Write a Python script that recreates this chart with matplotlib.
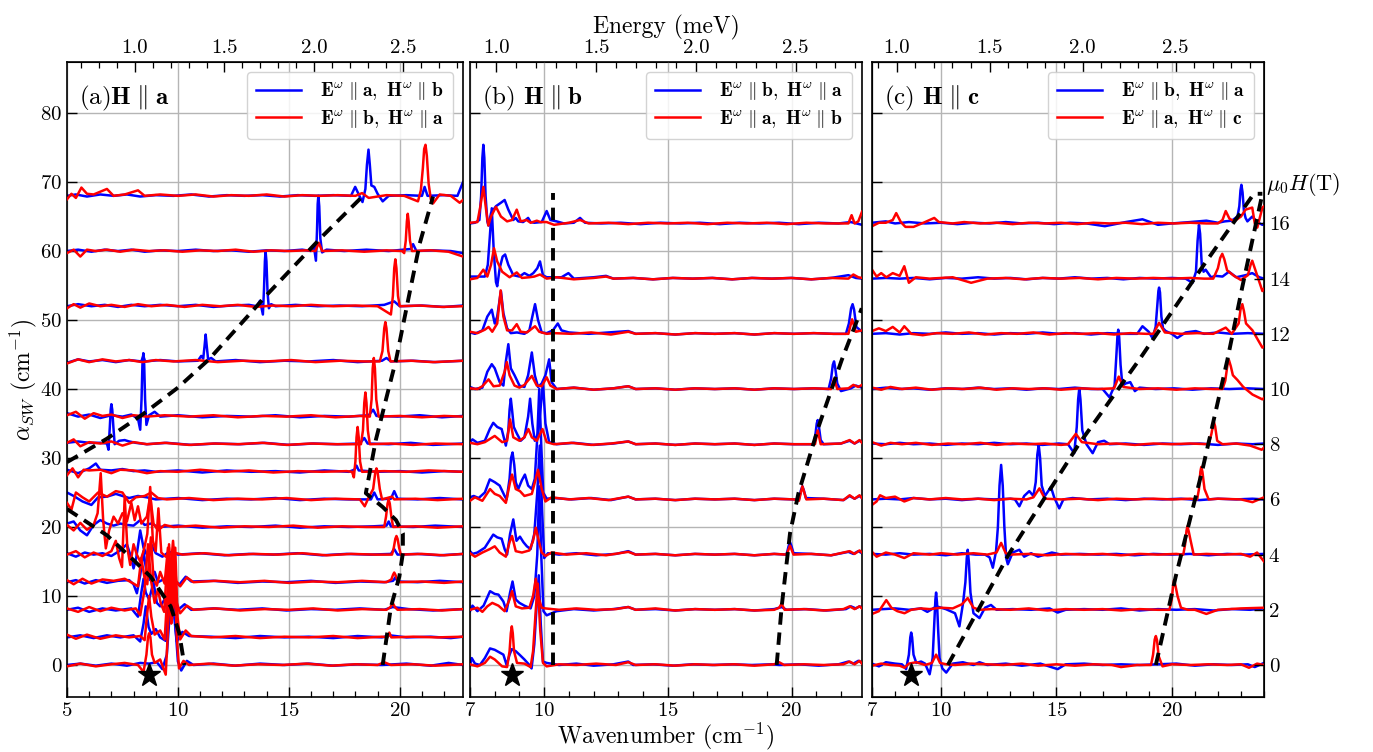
import matplotlib
matplotlib.use('Agg')
import matplotlib.pyplot as plt
from matplotlib.ticker import MultipleLocator, FormatStrFormatter
import matplotlib.transforms as mtransforms

plt.rcParams.update({
    'font.family': 'serif', 'font.serif': ['cmr10'], 'mathtext.fontset': 'cm',
    'axes.formatter.use_mathtext': True, 'axes.unicode_minus': False,
})

CM_PER_MEV = 8.0655
OFFSET_PER_TESLA = 4.0

A_FIELDS = [0, 1, 2, 3, 4, 5, 6, 7, 8, 9, 11, 13, 15, 17]
B_FIELDS = [0, 2, 4, 6, 8, 10, 12, 14, 16]
C_FIELDS = [0, 2, 4, 6, 8, 10, 12, 14, 16]
RIGHT_TICK_FIELDS = [0, 2, 4, 6, 8, 10, 12, 14, 16]

# ---------------- panel (a) spectra: (wavenumber, alpha - offset) ----------------
A_B00 = [(5.0,0.0),(5.6,0.2),(6.3,-0.1),(7.0,0.2),(7.7,-0.1),(8.3,0.3),(8.7,0.2),(9.05,0.4),(9.3,-0.6),(9.5,1.5),(9.6,6.0),(9.68,10.5),(9.75,12.0),(9.82,10.0),(9.9,5.0),(10.0,0.5),(10.15,-0.8),(10.4,0.6),(10.7,0.0),(11.6,0.2),(12.6,-0.1),(13.7,0.2),(14.8,0.0),(15.9,0.2),(17.0,-0.1),(18.1,0.1),(19.2,0.0),(20.3,0.2),(21.4,-0.1),(22.2,0.3),(22.85,0.0)]
A_R00 = [(5.0,-0.2),(5.6,0.2),(6.3,-0.2),(7.0,0.1),(7.6,0.3),(8.2,0.0),(8.45,-1.0),(8.58,1.5),(8.65,4.0),(8.7,4.6),(8.76,4.0),(8.83,1.5),(8.95,0.3),(9.2,0.8),(9.45,-1.4),(9.55,5.0),(9.62,12.5),(9.7,6.0),(9.78,8.0),(9.86,13.0),(9.95,4.0),(10.05,-0.5),(10.25,0.6),(10.5,0.0),(11.4,0.2),(12.5,-0.1),(13.6,0.1),(14.7,0.0),(15.8,0.2),(16.9,-0.1),(18.0,0.1),(19.0,0.0),(19.3,0.4),(19.6,0.0),(20.6,0.1),(21.6,-0.1),(22.85,0.1)]
A_B01 = [(5.0,0.0),(5.6,0.3),(6.2,-0.1),(6.8,0.3),(7.4,0.0),(8.0,0.3),(8.3,-0.6),(8.45,2.0),(8.55,4.5),(8.68,1.5),(8.8,0.5),(9.0,1.2),(9.2,0.0),(9.45,-0.5),(9.58,5.0),(9.68,9.0),(9.8,4.0),(9.95,-0.6),(10.2,0.8),(10.5,0.2),(11.5,0.1),(12.6,-0.1),(13.7,0.2),(14.8,0.0),(15.9,0.1),(17.0,-0.1),(18.1,0.2),(19.2,0.0),(19.55,0.3),(20.3,0.0),(21.4,0.1),(22.3,-0.1),(22.85,0.1)]
A_R01 = [(5.0,0.4),(5.4,-0.2),(5.9,0.4),(6.5,-0.2),(7.2,0.3),(7.8,0.0),(8.3,0.2),(8.5,-0.4),(8.6,3.0),(8.7,6.0),(8.8,3.0),(8.95,0.4),(9.2,1.0),(9.4,-0.3),(9.52,6.0),(9.6,13.5),(9.7,5.0),(9.78,7.0),(9.88,13.0),(9.98,3.0),(10.1,-0.3),(10.35,1.0),(10.6,0.2),(11.5,0.0),(12.6,0.2),(13.7,-0.1),(14.8,0.1),(15.9,0.0),(17.0,0.2),(18.1,-0.1),(19.2,0.1),(19.45,0.0),(19.53,0.7),(19.62,0.0),(20.6,0.1),(21.7,0.0),(22.85,0.1)]
A_B02 = [(5.0,0.0),(5.5,0.3),(6.0,-0.3),(6.6,0.2),(7.2,-0.1),(7.9,0.2),(8.2,-1.0),(8.35,2.5),(8.45,4.5),(8.55,2.5),(8.7,1.5),(8.9,4.0),(9.05,1.0),(9.2,0.5),(9.4,1.5),(9.55,-0.5),(9.7,0.8),(9.9,-0.3),(10.3,0.8),(10.6,0.0),(11.6,0.2),(12.7,0.0),(13.8,0.2),(14.9,-0.1),(16.0,0.1),(17.1,0.0),(18.2,0.2),(19.3,0.0),(19.68,0.4),(20.4,0.1),(21.5,-0.1),(22.85,0.1)]
A_R02 = [(5.0,0.2),(5.5,-0.3),(6.0,0.4),(6.5,-0.2),(7.0,0.3),(7.6,-0.1),(8.1,0.2),(8.3,-0.8),(8.5,3.0),(8.65,9.5),(8.8,4.0),(8.95,1.0),(9.1,3.0),(9.22,1.0),(9.38,-0.3),(9.5,6.0),(9.6,9.0),(9.7,2.0),(9.82,9.0),(9.95,1.0),(10.1,-0.5),(10.4,0.6),(10.7,0.0),(11.7,0.2),(12.8,-0.1),(13.9,0.1),(15.0,0.0),(16.1,0.2),(17.2,-0.1),(18.3,0.1),(19.4,0.0),(19.58,0.4),(19.68,1.0),(19.78,0.4),(19.9,0.0),(20.9,0.1),(21.9,-0.1),(22.85,0.1)]
A_B03 = [(5.0,0.0),(5.4,0.3),(5.8,-0.2),(6.3,0.3),(6.8,-0.1),(7.3,0.2),(7.8,0.3),(8.0,-0.3),(8.15,-1.6),(8.3,1.0),(8.45,4.5),(8.58,1.5),(8.75,0.3),(8.95,1.5),(9.1,0.0),(9.4,0.5),(9.7,2.5),(9.85,0.3),(10.05,-0.4),(10.35,0.8),(10.6,0.1),(11.6,0.2),(12.7,-0.1),(13.8,0.1),(14.9,0.0),(16.0,0.2),(17.1,-0.1),(18.2,0.1),(19.3,0.0),(19.7,0.2),(19.8,0.7),(19.9,0.1),(20.8,0.0),(21.8,0.2),(22.85,0.0)]
A_R03 = [(5.0,0.3),(5.3,-0.3),(5.7,0.5),(6.1,-0.2),(6.6,0.4),(7.1,0.2),(7.6,0.5),(8.0,-0.2),(8.2,-0.6),(8.35,3.5),(8.5,0.5),(8.62,-0.3),(8.78,6.5),(8.9,0.5),(9.05,-0.5),(9.2,1.5),(9.4,-0.2),(9.55,5.0),(9.65,1.0),(9.78,6.0),(9.92,0.2),(10.1,-0.6),(10.4,0.7),(10.7,0.0),(11.7,0.2),(12.8,0.0),(13.9,0.2),(15.0,-0.1),(16.1,0.1),(17.2,0.0),(18.3,0.2),(19.4,0.0),(19.62,0.4),(19.7,1.1),(19.75,1.4),(19.8,1.1),(19.88,0.4),(20.0,0.0),(21.0,0.1),(22.0,-0.1),(22.85,0.1)]
A_B04 = [(5.0,0.2),(5.4,-0.3),(5.8,0.3),(6.2,0.0),(6.6,0.2),(7.0,-0.2),(7.4,0.6),(7.7,1.5),(7.85,0.0),(8.0,-2.0),(8.12,-0.5),(8.3,3.5),(8.45,1.0),(8.6,0.0),(8.8,1.5),(9.0,0.2),(9.3,-0.3),(9.6,0.4),(10.0,0.0),(11.0,0.2),(12.1,-0.1),(13.2,0.1),(14.3,0.0),(15.4,0.2),(16.5,-0.1),(17.6,0.1),(18.7,0.0),(19.6,0.1),(19.75,0.8),(19.9,0.0),(20.8,0.1),(21.8,-0.1),(22.85,0.1)]
A_R04 = [(5.0,0.0),(5.4,0.5),(5.8,-0.4),(6.2,0.3),(6.6,-0.2),(7.0,0.5),(7.2,2.0),(7.35,-0.5),(7.48,-1.8),(7.6,8.4),(7.72,1.0),(7.85,-1.5),(8.0,1.5),(8.15,0.0),(8.3,-1.0),(8.45,0.5),(8.62,3.0),(8.75,9.8),(8.87,2.0),(9.0,0.5),(9.12,6.7),(9.25,0.3),(9.45,-0.3),(9.8,0.3),(10.2,0.0),(11.2,0.2),(12.3,-0.1),(13.4,0.1),(14.5,0.0),(15.6,0.2),(16.7,-0.1),(17.8,0.1),(18.9,0.0),(19.65,0.0),(19.73,1.0),(19.8,2.3),(19.85,2.7),(19.9,2.3),(19.97,1.0),(20.05,0.0),(21.0,0.1),(22.0,-0.1),(22.85,0.1)]
A_B05 = [(5.0,0.5),(5.3,0.8),(5.6,-0.5),(5.9,-1.2),(6.2,0.3),(6.5,1.0),(6.8,0.5),(7.1,0.2),(7.4,0.5),(7.7,0.3),(8.0,0.2),(8.3,1.0),(8.5,0.3),(8.8,0.5),(9.1,0.0),(10.0,0.2),(11.1,-0.1),(12.2,0.1),(13.3,0.0),(14.4,0.2),(15.5,-0.1),(16.6,0.1),(17.7,0.0),(18.8,0.1),(19.4,0.2),(19.5,0.8),(19.6,0.1),(20.6,0.0),(21.6,0.2),(22.85,0.0)]
A_R05 = [(5.0,0.3),(5.3,-0.5),(5.6,0.6),(5.9,-0.4),(6.2,0.3),(6.38,2.0),(6.52,7.8),(6.63,1.0),(6.75,-3.1),(6.9,-0.5),(7.1,1.5),(7.3,0.5),(7.5,2.0),(7.7,0.8),(7.9,3.5),(8.05,1.0),(8.2,3.0),(8.35,0.5),(8.6,1.5),(8.75,4.5),(8.9,0.5),(9.1,-0.5),(9.4,0.3),(9.8,0.0),(10.8,0.2),(11.9,-0.1),(13.0,0.1),(14.1,0.0),(15.2,0.2),(16.3,-0.1),(17.4,0.1),(18.5,0.0),(19.3,0.0),(19.38,1.5),(19.45,3.4),(19.5,4.0),(19.55,3.4),(19.62,1.5),(19.7,0.0),(20.7,0.1),(21.7,-0.1),(22.85,0.1)]
A_B06 = [(5.0,1.0),(5.3,0.5),(5.7,-0.3),(6.1,-0.8),(6.4,0.3),(6.8,0.4),(7.2,0.8),(7.5,0.5),(7.8,0.2),(8.2,0.5),(8.6,0.3),(9.0,0.0),(10.0,0.2),(11.1,-0.1),(12.2,0.1),(13.3,0.0),(14.4,0.2),(15.5,-0.1),(16.6,0.1),(17.7,0.0),(18.7,0.0),(18.85,1.0),(19.0,0.0),(19.6,0.1),(19.75,1.2),(19.9,0.1),(20.8,0.0),(21.8,0.2),(22.85,0.0)]
A_R06 = [(5.0,-0.5),(5.2,-1.5),(5.4,1.0),(5.7,0.3),(6.0,-0.3),(6.4,1.0),(6.8,0.4),(7.2,1.2),(7.5,1.0),(7.8,-0.5),(8.1,0.3),(8.5,0.5),(8.8,1.0),(9.1,0.2),(9.5,0.0),(10.5,0.2),(11.6,-0.1),(12.7,0.1),(13.8,0.0),(14.9,0.2),(16.0,-0.1),(17.1,0.1),(18.2,0.0),(18.42,-1.0),(18.6,0.3),(18.8,1.5),(18.9,4.0),(18.95,4.5),(19.0,4.0),(19.1,1.5),(19.2,0.0),(19.65,0.4),(19.75,0.0),(20.7,0.1),(21.7,-0.1),(22.85,0.1)]
A_B07 = [(5.0,0.3),(5.5,-0.2),(6.0,0.5),(6.3,1.2),(6.5,0.3),(7.0,0.2),(7.5,0.4),(8.0,0.1),(8.5,0.2),(9.0,0.0),(10.0,0.2),(11.1,-0.1),(12.2,0.2),(13.3,0.0),(14.4,0.1),(15.5,-0.1),(16.6,0.2),(17.7,0.0),(17.95,0.3),(18.05,0.9),(18.15,0.2),(19.0,0.0),(20.0,0.1),(21.0,-0.1),(22.0,0.1),(22.85,0.0)]
A_R07 = [(5.0,-0.5),(5.25,0.5),(5.5,-0.8),(5.75,0.3),(6.0,0.2),(6.5,0.3),(7.0,-0.2),(7.4,0.3),(8.0,0.2),(8.6,-0.2),(9.2,0.1),(10.0,0.0),(11.0,0.3),(12.1,0.0),(13.2,0.2),(14.3,-0.1),(15.4,0.1),(16.5,0.0),(17.6,0.1),(17.85,0.0),(17.93,-0.8),(18.0,1.5),(18.05,5.0),(18.1,6.5),(18.15,5.0),(18.21,1.5),(18.3,0.0),(19.3,0.1),(20.3,0.0),(21.3,0.2),(22.85,0.0)]
A_B08 = [(5.0,0.2),(5.5,0.4),(6.0,0.2),(6.5,0.2),(6.8,0.1),(6.87,-0.8),(6.93,2.5),(6.97,5.0),(7.0,5.8),(7.04,5.0),(7.09,2.5),(7.15,0.0),(7.35,0.5),(7.6,0.6),(7.8,0.4),(8.1,0.2),(8.6,0.0),(9.5,0.2),(10.6,-0.1),(11.7,0.1),(12.8,0.0),(13.9,0.2),(15.0,-0.1),(16.1,0.1),(17.2,0.0),(18.2,0.1),(18.4,0.9),(18.55,0.1),(19.5,0.0),(20.5,0.2),(21.5,-0.1),(22.85,0.1)]
A_R08 = [(5.0,0.2),(5.3,0.7),(5.6,-0.3),(6.0,0.3),(6.5,0.1),(7.0,0.4),(7.5,-0.2),(8.0,0.3),(8.6,0.0),(9.4,0.2),(10.5,-0.1),(11.6,0.1),(12.7,0.0),(13.8,0.2),(14.9,-0.1),(16.0,0.1),(17.1,0.0),(18.25,0.0),(18.34,2.0),(18.4,6.0),(18.45,7.5),(18.5,6.0),(18.56,2.0),(18.65,0.0),(19.6,0.1),(20.6,-0.1),(21.6,0.1),(22.85,0.0)]
A_B09 = [(5.0,0.5),(5.5,0.0),(6.0,0.3),(6.5,-0.2),(7.0,0.2),(7.5,0.0),(7.9,0.3),(8.2,-0.3),(8.3,-1.9),(8.36,2.5),(8.4,7.5),(8.44,9.2),(8.48,7.5),(8.52,2.5),(8.58,-1.2),(8.7,0.2),(8.95,0.7),(9.2,0.0),(10.0,0.2),(11.1,-0.1),(12.2,0.1),(13.3,0.0),(14.4,0.2),(15.5,-0.1),(16.6,0.1),(17.7,0.0),(18.6,0.2),(18.8,1.0),(18.95,0.1),(19.9,0.0),(20.9,0.2),(21.9,-0.1),(22.85,0.1)]
A_R09 = [(5.0,0.2),(5.4,0.7),(5.8,-0.3),(6.2,0.5),(6.6,0.1),(7.0,0.3),(7.5,-0.2),(8.0,0.2),(8.6,0.0),(9.4,0.2),(10.5,0.0),(11.6,0.2),(12.7,-0.1),(13.8,0.1),(14.9,0.0),(16.0,0.2),(17.1,-0.1),(18.2,0.1),(18.65,0.0),(18.73,2.5),(18.78,7.0),(18.83,8.5),(18.88,7.0),(18.94,2.5),(19.05,0.0),(20.0,0.1),(21.0,-0.1),(22.0,0.1),(22.85,0.0)]
A_B11 = [(5.0,-0.2),(5.5,0.3),(6.0,0.0),(6.6,0.2),(7.2,-0.1),(7.8,0.2),(8.35,0.0),(8.44,0.8),(8.52,0.0),(9.2,0.2),(10.0,0.0),(10.9,0.1),(11.05,0.8),(11.14,0.4),(11.2,2.2),(11.25,3.9),(11.3,2.2),(11.36,0.3),(11.5,0.5),(11.7,0.0),(12.6,0.2),(13.7,-0.1),(14.8,0.1),(15.9,0.0),(17.0,0.2),(18.1,-0.1),(19.2,0.1),(19.4,0.5),(19.6,0.0),(20.6,0.1),(21.6,-0.1),(22.85,0.1)]
A_R11 = [(5.0,-0.3),(5.5,0.3),(6.0,-0.1),(6.6,0.3),(7.2,0.0),(7.8,0.2),(8.4,-0.1),(9.0,0.2),(9.8,0.0),(10.8,0.2),(11.8,-0.1),(12.9,0.1),(14.0,0.0),(15.1,0.2),(16.2,-0.1),(17.3,0.1),(18.4,0.0),(19.1,0.0),(19.22,1.5),(19.3,4.8),(19.35,5.7),(19.4,4.8),(19.48,1.5),(19.58,0.0),(20.5,0.1),(21.5,-0.1),(22.85,0.1)]
A_B13 = [(5.0,0.0),(5.5,0.3),(6.1,0.0),(6.7,0.2),(7.3,-0.1),(7.9,0.2),(8.5,0.0),(9.2,0.2),(10.0,0.0),(10.8,0.2),(11.6,-0.1),(12.4,0.1),(13.2,0.2),(13.55,0.0),(13.7,0.8),(13.83,-1.2),(13.88,2.5),(13.92,6.5),(13.95,8.0),(13.99,6.5),(14.04,2.0),(14.1,-0.3),(14.2,0.3),(14.4,0.0),(15.3,0.2),(16.3,0.0),(17.3,0.1),(18.3,0.0),(19.3,0.2),(19.75,0.7),(20.0,0.0),(21.0,0.1),(22.0,-0.1),(22.85,0.1)]
A_R13 = [(5.0,-0.3),(5.3,0.3),(5.6,-0.2),(6.0,0.4),(6.5,0.0),(7.0,0.2),(7.6,-0.1),(8.2,0.3),(8.8,0.0),(9.5,0.2),(10.3,-0.1),(11.1,0.2),(11.9,0.0),(12.7,0.2),(13.5,-0.1),(14.3,0.1),(15.1,0.0),(16.0,0.2),(17.0,0.0),(18.0,0.1),(19.0,0.0),(19.6,-1.2),(19.69,1.5),(19.75,5.5),(19.8,6.8),(19.85,5.5),(19.92,1.5),(20.0,0.0),(20.9,0.1),(21.9,-0.1),(22.85,0.0)]
A_B15 = [(5.0,0.0),(5.5,0.2),(6.1,-0.1),(6.7,0.2),(7.3,0.0),(7.9,0.2),(8.5,-0.1),(9.2,0.1),(10.0,0.0),(10.8,0.2),(11.6,0.0),(12.4,0.1),(13.2,-0.1),(14.0,0.1),(14.8,0.0),(15.6,0.2),(16.0,0.0),(16.13,0.7),(16.22,-1.4),(16.27,3.0),(16.3,6.8),(16.33,8.0),(16.37,6.5),(16.42,1.8),(16.5,-0.2),(16.7,0.2),(17.5,0.0),(18.5,0.2),(19.5,0.0),(20.5,0.3),(20.6,1.0),(20.75,0.0),(21.5,0.1),(22.3,0.0),(22.85,-0.3)]
A_R15 = [(5.0,-0.3),(5.3,0.2),(5.6,-0.8),(5.9,0.2),(6.3,0.0),(6.8,0.2),(7.4,-0.1),(8.0,0.2),(8.7,0.0),(9.4,0.1),(10.2,-0.1),(11.0,0.1),(11.8,0.0),(12.6,0.2),(13.4,-0.1),(14.2,0.1),(15.0,0.0),(15.8,0.1),(16.2,0.0),(16.35,1.2),(16.5,0.0),(17.4,0.1),(18.4,-0.1),(19.4,0.1),(20.1,0.0),(20.2,-0.3),(20.27,1.5),(20.32,4.3),(20.36,5.4),(20.4,4.3),(20.46,1.5),(20.55,0.0),(21.4,0.1),(22.2,-0.1),(22.85,-0.8)]
A_B17 = [(5.0,0.0),(5.4,0.2),(5.9,-0.1),(6.5,0.2),(7.1,0.0),(7.7,0.2),(8.3,-0.1),(9.0,0.1),(9.8,0.0),(10.6,0.2),(11.4,-0.1),(12.2,0.1),(13.0,0.0),(13.8,0.1),(14.6,-0.1),(15.4,0.1),(16.2,0.0),(17.0,0.1),(17.8,0.0),(17.99,1.3),(18.15,0.2),(18.32,-0.9),(18.45,1.0),(18.52,4.5),(18.59,6.7),(18.65,4.5),(18.72,1.5),(18.85,1.3),(19.0,0.3),(19.23,-0.8),(19.5,0.0),(20.3,0.1),(21.0,0.0),(21.12,1.3),(21.25,0.0),(22.0,0.1),(22.6,0.0),(22.85,2.0)]
A_R17 = [(5.0,-0.5),(5.2,0.3),(5.4,-0.3),(5.65,1.2),(5.9,0.3),(6.2,0.2),(6.8,1.0),(7.1,0.0),(7.6,0.2),(8.2,0.8),(8.5,0.0),(9.2,0.2),(10.0,0.0),(10.8,0.2),(11.6,-0.1),(12.4,0.1),(13.2,0.0),(14.0,0.2),(14.8,-0.1),(15.6,0.1),(16.4,0.0),(17.2,0.1),(18.0,0.0),(18.3,0.4),(18.6,-0.3),(19.4,0.1),(20.2,0.0),(20.82,-0.8),(20.95,0.8),(21.04,4.0),(21.1,6.8),(21.16,7.4),(21.22,5.8),(21.3,1.8),(21.4,-0.5),(21.5,-1.1),(21.8,0.2),(22.3,0.0),(22.7,-1.0),(22.85,-0.6)]

# ---------------- panel (b) spectra ----------------
B_B00 = [(7.0,0.0),(7.07,1.0),(7.2,0.2),(7.4,0.0),(7.6,1.0),(7.81,2.4),(8.0,2.2),(8.2,1.8),(8.35,1.5),(8.48,0.0),(8.6,1.5),(8.69,2.3),(8.85,2.0),(9.0,1.5),(9.2,0.8),(9.4,0.0),(9.49,-0.5),(9.6,3.0),(9.7,9.0),(9.78,13.0),(9.86,6.0),(9.95,0.5),(10.1,0.3),(10.6,0.0),(11.3,0.2),(12.0,-0.1),(12.8,0.1),(13.4,0.5),(13.6,0.0),(14.4,0.1),(15.2,-0.1),(16.0,0.1),(16.8,0.0),(17.6,0.1),(18.4,0.0),(19.2,0.1),(19.5,0.0),(20.3,0.1),(21.1,-0.1),(21.9,0.1),(22.3,0.5),(22.5,0.2),(22.7,0.6),(22.85,0.3)]
B_R00 = [(7.0,0.1),(7.3,-0.2),(7.6,0.3),(7.81,1.2),(8.0,0.8),(8.3,-0.2),(8.5,-0.3),(8.6,2.0),(8.65,4.6),(8.69,5.6),(8.73,4.6),(8.78,2.0),(8.9,0.3),(9.2,0.2),(9.45,-0.3),(9.55,2.0),(9.66,8.0),(9.74,11.8),(9.84,5.0),(9.95,0.3),(10.1,-0.2),(10.6,0.1),(11.3,0.0),(12.1,0.2),(12.9,0.0),(13.4,0.4),(13.7,0.0),(14.5,0.1),(15.3,-0.1),(16.1,0.1),(16.9,0.0),(17.7,0.1),(18.5,-0.1),(19.3,0.1),(19.5,0.4),(19.7,0.0),(20.5,0.1),(21.3,0.0),(22.1,0.1),(22.35,0.5),(22.55,0.1),(22.75,0.6),(22.85,0.2)]
B_B02 = [(7.0,-0.2),(7.1,0.6),(7.3,-0.2),(7.55,0.6),(7.81,2.7),(8.0,2.3),(8.15,2.2),(8.35,1.2),(8.48,-0.2),(8.62,2.5),(8.72,4.1),(8.85,1.5),(9.0,1.0),(9.2,0.6),(9.45,0.2),(9.6,2.0),(9.72,8.0),(9.8,17.9),(9.88,8.0),(9.97,-0.2),(10.1,-0.8),(10.5,-0.2),(11.2,0.1),(12.0,-0.1),(12.8,0.1),(13.4,0.4),(13.7,0.0),(14.5,0.1),(15.3,-0.1),(16.1,0.1),(16.9,0.0),(17.7,0.1),(18.5,-0.1),(19.3,0.1),(19.6,0.4),(19.8,0.0),(20.6,0.1),(21.4,-0.1),(22.2,0.1),(22.4,0.5),(22.6,0.2),(22.75,0.5),(22.85,0.3)]
B_R02 = [(7.0,0.0),(7.3,0.3),(7.5,-0.3),(7.7,0.5),(7.9,1.0),(8.15,0.6),(8.4,-0.2),(8.6,1.5),(8.7,2.7),(8.85,0.5),(9.1,0.2),(9.4,0.3),(9.55,2.0),(9.66,4.5),(9.75,2.0),(9.9,0.3),(10.05,0.2),(10.6,0.0),(11.3,0.2),(12.1,0.0),(12.9,0.1),(13.4,0.4),(13.7,0.0),(14.5,0.2),(15.3,-0.1),(16.1,0.1),(16.9,0.0),(17.7,0.1),(18.5,-0.1),(19.3,0.0),(19.5,0.3),(19.6,0.9),(19.72,0.0),(20.5,0.1),(21.3,-0.1),(22.1,0.1),(22.35,0.5),(22.55,0.1),(22.75,0.5),(22.85,0.2)]
B_B04 = [(7.0,0.5),(7.1,0.1),(7.3,0.3),(7.6,1.0),(7.94,2.9),(8.1,2.5),(8.28,2.3),(8.4,0.8),(8.5,0.0),(8.62,3.0),(8.75,5.1),(8.88,2.0),(9.02,2.6),(9.16,1.8),(9.3,1.2),(9.45,0.8),(9.6,3.0),(9.72,9.0),(9.82,15.8),(9.92,6.0),(10.0,-0.5),(10.15,0.2),(10.6,0.0),(11.3,0.2),(12.1,-0.1),(12.9,0.1),(13.4,0.5),(13.7,0.0),(14.5,0.1),(15.3,-0.1),(16.1,0.1),(16.9,0.0),(17.7,0.1),(18.5,-0.1),(19.3,0.1),(19.8,0.0),(19.88,1.2),(19.94,1.8),(20.0,1.2),(20.08,0.2),(20.8,0.1),(21.6,-0.1),(22.3,0.4),(22.5,0.1),(22.7,0.5),(22.85,0.2)]
B_R04 = [(7.0,0.2),(7.2,-0.3),(7.5,0.3),(7.8,0.8),(8.0,1.2),(8.2,0.3),(8.45,-0.3),(8.6,1.8),(8.7,2.7),(8.85,0.5),(9.1,0.3),(9.4,0.6),(9.55,2.0),(9.66,3.9),(9.78,2.0),(9.9,0.3),(10.05,-0.2),(10.3,0.3),(10.9,0.0),(11.7,0.2),(12.5,-0.1),(13.4,0.4),(13.7,0.0),(14.5,0.1),(15.3,-0.1),(16.1,0.1),(16.9,0.0),(17.7,0.1),(18.5,-0.1),(19.3,0.1),(19.8,0.0),(19.94,1.3),(20.08,0.0),(20.8,0.1),(21.6,-0.1),(22.35,0.5),(22.55,0.1),(22.75,0.6),(22.85,0.3)]
B_B06 = [(7.0,0.3),(7.15,0.5),(7.35,0.2),(7.6,1.0),(7.8,2.9),(8.0,2.5),(8.2,2.0),(8.4,0.5),(8.48,0.0),(8.6,3.0),(8.66,6.0),(8.72,6.8),(8.79,5.0),(8.85,2.5),(8.95,1.5),(9.1,2.8),(9.22,3.6),(9.35,2.0),(9.5,1.5),(9.62,3.0),(9.72,9.0),(9.8,16.0),(9.88,8.0),(9.96,1.0),(10.1,0.1),(10.4,0.2),(11.1,0.0),(11.9,0.2),(12.7,-0.1),(13.4,0.4),(13.7,0.0),(14.5,0.1),(15.3,-0.1),(16.1,0.1),(16.9,0.0),(17.7,0.1),(18.5,-0.1),(19.3,0.1),(20.1,0.0),(20.3,0.0),(20.38,1.3),(20.44,1.9),(20.5,1.3),(20.58,0.2),(21.3,0.1),(22.1,-0.1),(22.35,0.5),(22.55,0.1),(22.75,0.5),(22.85,0.2)]
B_R06 = [(7.0,-0.2),(7.2,0.3),(7.5,-0.2),(7.81,1.5),(8.0,0.8),(8.2,0.5),(8.45,-0.5),(8.62,2.5),(8.7,3.6),(8.85,1.5),(9.02,1.2),(9.2,0.5),(9.5,0.8),(9.66,3.0),(9.75,4.3),(9.9,1.5),(10.05,-0.3),(10.3,0.3),(11.0,0.0),(11.8,0.2),(12.6,-0.1),(13.4,0.4),(13.7,0.0),(14.5,0.1),(15.3,-0.1),(16.1,0.1),(16.9,0.0),(17.7,0.1),(18.5,-0.1),(19.3,0.1),(20.1,0.0),(20.3,-0.2),(20.44,1.9),(20.6,0.0),(21.3,0.1),(22.1,-0.1),(22.35,0.6),(22.55,0.1),(22.75,0.6),(22.85,0.2)]
B_B08 = [(7.0,0.3),(7.1,0.7),(7.3,0.2),(7.6,0.5),(7.8,2.2),(7.94,3.1),(8.1,2.5),(8.28,2.2),(8.45,-0.2),(8.55,2.0),(8.6,5.0),(8.65,6.6),(8.7,5.0),(8.77,2.5),(8.9,1.5),(9.05,0.5),(9.2,1.0),(9.35,4.0),(9.43,6.6),(9.52,3.0),(9.62,0.5),(9.75,1.5),(9.85,5.0),(9.95,9.0),(10.05,3.0),(10.2,0.3),(10.5,0.0),(11.2,0.2),(12.0,-0.1),(12.8,0.1),(13.4,0.4),(13.7,0.0),(14.5,0.1),(15.3,-0.1),(16.1,0.1),(16.9,0.0),(17.7,0.1),(18.5,-0.1),(19.3,0.1),(20.1,0.0),(20.9,0.0),(20.97,1.5),(21.02,3.0),(21.06,3.5),(21.11,2.5),(21.18,0.6),(21.3,0.0),(22.0,0.1),(22.35,0.5),(22.55,0.1),(22.75,0.5),(22.85,0.3)]
B_R08 = [(7.0,0.2),(7.3,0.0),(7.6,0.3),(8.0,1.2),(8.3,0.3),(8.5,0.5),(8.62,3.6),(8.75,1.0),(9.0,0.5),(9.2,1.0),(9.36,2.2),(9.5,1.0),(9.7,0.5),(9.93,2.2),(10.1,0.3),(10.4,0.0),(11.1,0.2),(11.9,-0.1),(12.7,0.1),(13.4,0.4),(13.7,0.0),(14.5,0.1),(15.3,-0.1),(16.1,0.1),(16.9,0.0),(17.7,0.1),(18.5,-0.1),(19.3,0.1),(20.1,0.0),(20.95,0.0),(21.06,2.0),(21.18,0.0),(22.0,0.1),(22.35,0.6),(22.55,0.1),(22.75,0.6),(22.85,0.2)]
B_B10 = [(7.0,0.3),(7.2,0.0),(7.5,0.2),(7.7,2.5),(7.88,3.6),(8.0,3.0),(8.2,1.0),(8.35,0.5),(8.45,4.0),(8.55,6.5),(8.65,3.0),(8.8,2.0),(9.0,0.5),(9.2,0.3),(9.35,2.0),(9.5,5.3),(9.62,2.0),(9.75,0.3),(9.9,0.8),(10.05,2.0),(10.2,4.3),(10.3,1.0),(10.5,0.0),(11.2,0.2),(12.0,-0.1),(12.8,0.1),(13.4,0.4),(13.7,0.0),(14.5,0.1),(15.3,-0.1),(16.1,0.1),(16.9,0.0),(17.7,0.1),(18.5,-0.1),(19.3,0.1),(20.1,0.0),(20.9,0.1),(21.5,0.0),(21.6,1.5),(21.67,3.5),(21.72,4.0),(21.77,3.0),(21.85,0.8),(22.0,-0.3),(22.4,0.1),(22.6,0.5),(22.85,0.2)]
B_R10 = [(7.0,0.1),(7.3,0.0),(7.5,0.4),(7.75,1.4),(7.95,0.4),(8.2,0.5),(8.4,2.5),(8.49,3.9),(8.6,2.0),(8.8,0.5),(9.0,0.2),(9.2,0.6),(9.5,1.9),(9.7,0.5),(9.9,0.4),(10.1,1.7),(10.25,0.5),(10.5,0.0),(11.2,0.2),(12.0,-0.1),(12.8,0.1),(13.4,0.4),(13.7,0.0),(14.5,0.1),(15.3,-0.1),(16.1,0.1),(16.9,0.0),(17.7,0.1),(18.5,-0.1),(19.3,0.1),(20.1,0.0),(20.9,0.1),(21.6,0.0),(21.72,1.5),(21.85,0.0),(22.3,0.1),(22.5,0.6),(22.7,0.3),(22.85,0.6)]
B_B12 = [(7.0,0.2),(7.2,0.0),(7.5,0.5),(7.7,2.5),(7.88,3.5),(8.0,1.5),(8.1,2.5),(8.25,6.2),(8.35,3.0),(8.5,0.8),(8.65,0.1),(8.9,0.2),(9.2,0.0),(9.4,0.5),(9.55,3.0),(9.63,4.3),(9.75,2.0),(9.9,0.2),(10.1,0.1),(10.35,0.5),(10.55,1.5),(10.7,0.5),(11.0,0.2),(11.8,0.0),(12.6,0.2),(13.4,0.4),(13.7,0.0),(14.5,0.1),(15.3,-0.1),(16.1,0.1),(16.9,0.0),(17.7,0.1),(18.5,-0.1),(19.3,0.1),(20.1,0.0),(20.9,0.1),(21.7,0.0),(22.2,0.0),(22.32,1.5),(22.41,3.7),(22.47,4.3),(22.53,3.5),(22.62,1.0),(22.85,0.3)]
B_R12 = [(7.0,0.3),(7.3,0.1),(7.6,0.6),(7.75,1.0),(7.9,0.3),(8.1,1.5),(8.24,6.3),(8.35,2.5),(8.5,0.5),(8.7,0.5),(8.89,1.4),(9.05,0.3),(9.3,0.2),(9.63,1.1),(9.8,0.3),(10.1,0.0),(10.4,0.1),(11.1,0.0),(11.9,0.2),(12.7,-0.1),(13.4,0.3),(13.7,0.0),(14.5,0.1),(15.3,-0.1),(16.1,0.1),(16.9,0.0),(17.7,0.1),(18.5,-0.1),(19.3,0.1),(20.1,0.0),(20.9,0.1),(21.7,0.0),(22.3,0.0),(22.45,2.1),(22.6,0.3),(22.85,0.5)]
B_B14 = [(7.0,0.3),(7.3,0.3),(7.6,0.3),(7.72,2.0),(7.8,6.0),(7.88,10.2),(7.96,4.0),(8.05,-0.5),(8.1,-1.1),(8.2,1.5),(8.32,3.2),(8.42,3.5),(8.55,2.0),(8.75,0.5),(9.0,0.3),(9.2,0.8),(9.4,0.4),(9.56,0.8),(9.72,1.5),(9.83,2.5),(9.95,0.5),(10.1,0.2),(10.4,0.2),(10.7,0.2),(10.98,0.8),(11.2,0.0),(12.0,0.2),(12.5,0.4),(12.8,0.0),(13.6,0.1),(14.4,-0.1),(15.2,0.1),(16.0,0.0),(16.8,0.1),(17.6,-0.1),(18.4,0.1),(19.2,0.0),(20.0,0.1),(20.8,-0.1),(21.6,0.1),(22.3,0.5),(22.6,0.1),(22.85,0.0)]
B_R14 = [(7.0,-0.1),(7.3,0.1),(7.54,1.3),(7.7,0.3),(7.85,2.0),(7.97,4.4),(8.1,2.5),(8.3,1.0),(8.6,0.2),(8.89,0.9),(9.1,0.1),(9.4,0.2),(9.6,0.3),(9.83,0.6),(10.1,0.0),(10.5,0.2),(11.2,-0.1),(12.0,0.1),(12.5,0.3),(12.8,0.0),(13.6,0.1),(14.4,-0.1),(15.2,0.1),(16.0,0.0),(16.8,0.1),(17.6,-0.1),(18.4,0.1),(19.2,0.0),(20.0,0.1),(20.8,-0.1),(21.6,0.1),(22.3,0.0),(22.5,0.6),(22.7,0.2),(22.85,0.1)]
B_B16 = [(7.0,0.0),(7.2,0.1),(7.38,0.5),(7.45,4.0),(7.5,9.5),(7.54,11.4),(7.58,9.5),(7.63,4.0),(7.7,0.3),(7.75,-0.3),(7.85,1.5),(8.05,2.5),(8.25,3.0),(8.4,3.4),(8.55,2.0),(8.75,0.5),(8.85,0.8),(8.95,0.3),(9.15,0.2),(9.35,0.8),(9.45,0.2),(9.6,0.1),(9.9,0.2),(10.1,1.8),(10.25,0.5),(10.5,0.3),(10.8,0.0),(11.2,0.1),(11.45,0.8),(11.65,0.1),(12.3,0.0),(13.1,0.1),(13.9,-0.1),(14.7,0.1),(15.5,0.0),(16.3,0.1),(17.1,-0.1),(17.9,0.1),(18.7,0.0),(19.5,0.1),(20.3,-0.1),(21.1,0.1),(21.9,0.0),(22.4,0.2),(22.85,-0.2)]
B_R16 = [(7.0,0.1),(7.3,0.2),(7.42,2.5),(7.54,5.3),(7.65,2.0),(7.74,-0.3),(7.85,1.0),(8.05,2.4),(8.25,1.0),(8.5,0.3),(8.7,0.5),(8.89,2.0),(9.05,0.3),(9.29,0.5),(9.45,0.1),(9.7,0.4),(9.85,0.2),(10.1,0.2),(10.4,-0.2),(11.0,0.1),(11.45,0.5),(11.8,0.0),(12.6,0.1),(13.4,-0.1),(14.2,0.1),(15.0,0.0),(15.8,0.1),(16.6,-0.1),(17.4,0.1),(18.2,0.0),(19.0,0.1),(19.8,-0.1),(20.6,0.1),(21.4,0.0),(22.3,0.0),(22.43,1.2),(22.55,0.0),(22.7,0.3),(22.85,1.7)]

# ---------------- panel (c) spectra ----------------
C_B00 = [(7.0,0.2),(7.3,-0.2),(7.6,0.4),(8.0,0.2),(8.3,0.1),(8.48,-0.6),(8.6,1.5),(8.66,4.0),(8.7,4.7),(8.74,4.0),(8.8,1.5),(8.92,0.3),(9.13,0.5),(9.3,0.2),(9.5,-1.35),(9.63,1.0),(9.7,6.0),(9.75,9.5),(9.78,10.5),(9.82,9.0),(9.87,5.0),(9.93,1.0),(10.05,-0.5),(10.22,-1.1),(10.5,0.2),(10.94,0.4),(11.4,0.0),(11.66,0.4),(12.0,0.0),(12.8,0.2),(13.5,-0.1),(14.3,0.2),(15.05,-0.6),(15.4,0.1),(16.2,0.2),(17.0,0.0),(17.8,0.1),(18.6,0.0),(19.4,0.1),(20.2,0.2),(21.0,-0.1),(21.8,0.1),(22.6,0.0),(23.3,0.1),(23.6,-0.3),(24.0,0.3)]
C_R00 = [(7.0,-0.1),(7.4,0.2),(7.8,0.0),(8.2,-0.1),(8.41,-0.4),(8.6,0.2),(8.92,0.4),(9.3,0.0),(9.6,0.3),(9.78,1.5),(9.95,0.3),(10.22,0.1),(10.6,0.0),(11.3,0.2),(12.0,0.1),(12.7,0.0),(13.5,0.2),(14.2,-0.1),(15.0,0.1),(15.8,-0.1),(16.6,0.1),(17.4,0.0),(17.8,-0.3),(18.5,0.0),(19.1,0.0),(19.19,1.5),(19.26,3.7),(19.31,4.2),(19.36,3.6),(19.43,1.3),(19.6,-0.2),(20.0,0.1),(20.8,0.0),(21.6,0.1),(22.4,0.0),(23.0,0.1),(23.35,-0.4),(23.7,0.2),(24.0,0.0)]
C_B02 = [(7.0,0.0),(7.5,0.1),(8.0,0.2),(8.6,0.0),(9.13,0.2),(9.4,-0.3),(9.8,0.5),(10.2,0.1),(10.6,-0.5),(10.79,-2.4),(10.95,1.0),(11.05,4.0),(11.11,7.5),(11.15,8.7),(11.2,7.0),(11.27,2.5),(11.4,-0.5),(11.66,-1.2),(11.9,0.3),(12.16,0.7),(12.4,0.0),(13.1,0.1),(13.9,0.0),(14.7,0.2),(15.05,-0.4),(15.4,0.0),(16.2,0.1),(17.0,0.0),(17.8,0.2),(18.6,-0.1),(19.4,0.1),(20.2,0.0),(21.0,0.1),(21.8,-0.1),(22.6,0.1),(23.4,0.0),(24.0,0.2)]
C_R02 = [(7.0,-0.6),(7.3,-0.2),(7.5,0.8),(7.62,1.4),(7.84,0.3),(8.1,-0.2),(8.41,-0.5),(8.7,0.0),(9.13,0.2),(9.5,0.1),(10.0,0.3),(10.5,0.2),(10.9,0.8),(11.15,1.7),(11.4,0.3),(11.66,0.0),(12.2,0.1),(13.0,0.0),(13.8,0.2),(14.6,-0.1),(15.4,0.1),(16.2,0.0),(17.0,0.1),(17.8,-0.1),(18.6,0.1),(19.4,0.0),(19.9,0.0),(20.0,1.5),(20.06,3.6),(20.1,4.3),(20.16,3.5),(20.25,2.0),(20.4,0.3),(20.7,0.0),(21.0,0.0),(21.5,-0.6),(22.0,0.0),(23.0,0.2),(24.0,0.3)]
C_B04 = [(7.0,0.1),(7.6,0.0),(8.2,0.2),(8.8,0.0),(9.5,0.1),(10.2,-0.1),(10.9,0.2),(11.5,0.0),(11.9,0.0),(12.1,-0.4),(12.24,-1.9),(12.38,0.5),(12.46,4.0),(12.53,10.0),(12.6,13.0),(12.67,10.0),(12.74,4.0),(12.82,-0.5),(12.89,-1.4),(13.1,0.3),(13.39,0.7),(13.6,-0.3),(13.9,0.2),(14.2,-0.3),(14.8,0.3),(15.2,0.0),(16.0,0.1),(16.8,0.0),(17.6,0.1),(18.4,-0.1),(19.2,0.1),(20.0,0.0),(20.8,0.1),(21.6,-0.1),(22.4,0.1),(23.2,0.0),(24.0,0.1)]
C_R04 = [(7.0,0.4),(7.2,-0.3),(7.6,0.3),(8.0,0.0),(8.4,-0.5),(8.8,0.2),(9.5,0.0),(10.0,0.2),(10.7,0.0),(11.4,0.2),(12.0,0.0),(12.4,0.3),(12.6,1.7),(12.8,0.2),(13.0,0.0),(13.8,0.1),(14.6,-0.1),(15.4,0.1),(16.2,0.0),(17.0,0.1),(17.8,-0.1),(18.6,0.1),(19.4,0.0),(20.2,0.1),(20.5,0.0),(20.58,1.5),(20.64,3.5),(20.68,4.1),(20.74,3.3),(20.82,2.0),(20.95,0.0),(21.5,0.1),(22.3,0.0),(23.0,0.1),(23.4,-0.3),(23.7,0.3),(24.0,-1.0)]
C_B06 = [(7.0,0.0),(7.6,0.1),(8.2,0.0),(8.8,0.2),(9.5,0.0),(10.2,0.1),(10.9,-0.1),(11.6,0.1),(12.3,0.0),(13.0,0.1),(13.2,0.0),(13.39,-1.0),(13.6,0.5),(13.82,1.2),(14.0,0.5),(14.1,2.5),(14.17,6.5),(14.23,7.9),(14.29,6.0),(14.36,2.0),(14.5,0.5),(14.76,1.8),(14.9,0.3),(15.12,-1.3),(15.3,0.0),(15.7,0.2),(16.4,0.0),(17.2,0.1),(18.0,-0.1),(18.8,0.1),(19.6,0.0),(20.4,0.1),(21.2,-0.1),(22.0,0.1),(22.8,0.0),(23.5,0.1),(24.0,0.0)]
C_R06 = [(7.0,-0.8),(7.2,-0.3),(7.35,0.6),(7.6,0.2),(8.0,0.4),(8.4,-0.3),(8.8,0.2),(9.5,0.0),(10.2,0.2),(10.9,0.0),(11.6,0.1),(12.3,-0.1),(13.0,0.1),(13.7,0.0),(14.0,0.3),(14.26,1.6),(14.5,0.1),(15.2,0.0),(16.0,0.1),(16.8,-0.1),(17.6,0.1),(18.4,0.0),(19.2,0.1),(20.0,0.0),(20.8,0.1),(21.1,0.0),(21.18,1.5),(21.24,4.0),(21.28,4.7),(21.33,4.0),(21.42,1.5),(21.6,0.0),(22.0,0.1),(23.0,0.0),(23.5,-0.4),(24.0,0.3)]
C_B08 = [(7.0,0.1),(7.6,0.0),(8.2,0.2),(8.8,0.0),(9.5,0.1),(10.2,-0.1),(10.9,0.1),(11.6,0.0),(12.3,0.2),(13.0,0.0),(13.7,0.1),(14.4,-0.1),(15.1,0.1),(15.5,0.0),(15.77,-1.3),(15.88,2.5),(15.94,6.5),(15.99,8.1),(16.04,6.5),(16.12,2.0),(16.3,0.0),(16.57,-1.3),(16.8,0.3),(17.07,0.5),(17.3,0.0),(18.0,0.1),(18.8,-0.1),(19.6,0.1),(20.4,0.0),(21.2,0.1),(22.0,-0.1),(22.8,0.1),(23.5,0.0),(24.0,0.1)]
C_R08 = [(7.0,0.3),(7.4,-0.2),(7.8,0.2),(8.3,0.0),(8.9,0.2),(9.6,-0.1),(10.3,0.1),(11.0,0.0),(11.7,0.2),(12.4,-0.1),(13.1,0.1),(13.8,0.0),(14.5,0.1),(15.2,-0.1),(15.5,0.0),(15.84,1.5),(16.1,0.3),(16.8,0.0),(17.6,0.1),(18.4,-0.1),(19.2,0.1),(20.0,0.0),(20.8,0.1),(21.6,0.0),(21.72,1.5),(21.79,2.8),(21.83,3.2),(21.88,2.6),(21.97,0.5),(22.2,0.0),(22.8,0.1),(23.4,-0.2),(23.9,-0.8),(24.0,-0.5)]
C_B10 = [(7.0,0.0),(7.6,0.2),(8.2,0.0),(8.8,0.1),(9.5,-0.1),(10.2,0.1),(10.9,0.0),(11.6,0.2),(12.3,0.0),(13.0,0.1),(13.7,-0.1),(14.4,0.1),(15.1,0.0),(15.8,0.2),(16.5,0.0),(17.0,0.0),(17.3,-1.2),(17.52,0.5),(17.6,5.0),(17.65,8.0),(17.68,8.6),(17.72,7.5),(17.78,3.5),(17.86,0.5),(18.0,0.8),(18.2,1.0),(18.4,-0.3),(18.6,0.2),(19.3,0.0),(20.1,0.1),(20.9,-0.1),(21.7,0.1),(22.5,0.0),(23.3,0.1),(24.0,0.0)]
C_R10 = [(7.0,0.2),(7.4,-0.1),(7.8,0.3),(8.3,0.0),(8.9,0.2),(9.6,-0.1),(10.3,0.1),(11.0,0.0),(11.7,0.2),(12.4,-0.1),(13.1,0.1),(13.8,0.0),(14.5,0.1),(15.2,-0.1),(16.0,0.1),(16.8,0.0),(17.5,0.1),(17.7,1.8),(17.9,0.3),(18.6,0.0),(19.4,0.1),(20.2,-0.1),(21.0,0.1),(21.8,0.0),(22.2,0.0),(22.32,1.2),(22.42,3.6),(22.48,4.2),(22.56,3.3),(22.65,2.0),(22.85,1.3),(23.1,0.3),(23.5,-0.8),(23.93,-1.5),(24.0,-1.3)]
C_B12 = [(7.0,0.0),(7.6,0.1),(8.2,-0.1),(8.8,0.1),(9.5,0.0),(10.2,0.2),(10.9,0.0),(11.6,0.1),(12.3,-0.1),(13.0,0.1),(13.7,0.0),(14.4,0.2),(15.1,0.0),(15.8,0.1),(16.5,-0.1),(17.2,0.1),(17.9,0.0),(18.5,0.0),(18.73,1.1),(19.0,0.3),(19.16,-0.6),(19.3,1.0),(19.37,4.0),(19.42,6.2),(19.45,6.7),(19.49,6.0),(19.55,2.5),(19.62,0.8),(19.74,0.4),(20.0,0.0),(20.24,-0.6),(20.6,0.2),(21.04,0.4),(21.4,0.0),(22.0,0.2),(22.6,0.0),(23.3,0.1),(24.0,0.0)]
C_R12 = [(7.0,0.4),(7.3,0.8),(7.6,0.4),(7.9,1.0),(8.2,0.2),(8.4,1.1),(8.7,0.0),(9.2,-0.2),(9.8,0.1),(10.5,0.0),(11.2,0.2),(11.9,-0.1),(12.6,0.1),(13.3,0.0),(14.0,0.2),(14.7,-0.1),(15.4,0.1),(16.1,0.0),(16.8,0.1),(17.5,-0.1),(18.2,0.1),(18.9,0.0),(19.2,0.0),(19.45,1.6),(19.7,0.2),(20.4,0.0),(21.1,0.1),(21.8,0.0),(22.34,0.9),(22.6,0.0),(22.9,1.5),(22.98,3.5),(23.06,4.3),(23.13,3.3),(23.22,1.5),(23.5,0.5),(23.93,-2.0),(24.0,-1.8)]
C_B14 = [(7.0,0.0),(7.6,0.1),(8.2,0.0),(8.8,0.1),(9.5,-0.1),(10.2,0.1),(10.9,0.0),(11.6,0.2),(12.3,0.0),(13.0,0.1),(13.7,-0.1),(14.4,0.1),(15.1,0.0),(15.8,0.2),(16.5,0.0),(17.2,0.1),(17.9,-0.1),(18.6,0.1),(19.3,0.0),(20.0,0.1),(20.6,0.0),(20.9,-0.6),(21.05,1.0),(21.12,5.5),(21.18,7.8),(21.23,6.5),(21.3,2.0),(21.38,1.0),(21.47,1.3),(21.7,0.2),(21.9,0.4),(22.2,0.3),(22.48,1.0),(22.8,0.2),(23.2,0.5),(23.49,0.8),(23.8,0.2),(24.0,0.0)]
C_R14 = [(7.0,1.3),(7.2,0.3),(7.4,0.8),(7.62,0.2),(7.9,0.8),(8.2,0.4),(8.4,1.8),(8.6,-0.6),(8.9,0.2),(9.5,0.0),(10.5,0.2),(11.3,-0.6),(12.0,0.0),(12.8,0.1),(13.6,-0.1),(14.4,0.1),(15.2,0.0),(16.0,0.1),(16.8,-0.1),(17.6,0.1),(18.4,0.0),(19.2,0.1),(20.0,0.0),(20.8,0.1),(21.4,0.0),(21.8,0.0),(22.0,1.5),(22.1,3.0),(22.19,3.6),(22.28,2.8),(22.4,1.2),(22.7,0.4),(23.0,-0.2),(23.3,0.5),(23.42,2.0),(23.49,2.6),(23.57,1.8),(23.7,0.5),(23.93,-1.8),(24.0,-1.5)]
C_B16 = [(7.0,0.1),(7.3,0.2),(7.6,0.3),(8.0,0.0),(8.6,0.2),(9.3,0.0),(10.0,0.1),(10.7,-0.1),(11.4,0.1),(12.1,0.0),(12.8,0.2),(13.5,0.0),(14.2,0.1),(14.9,-0.1),(15.6,0.1),(16.3,0.0),(17.1,-0.4),(18.0,0.2),(18.73,0.6),(19.4,-0.2),(20.0,0.0),(20.8,0.2),(21.5,0.4),(22.0,0.1),(22.3,0.3),(22.6,0.4),(22.85,1.0),(22.93,2.5),(22.98,4.8),(23.02,5.6),(23.07,4.5),(23.13,1.8),(23.2,0.8),(23.28,0.3),(23.49,1.0),(23.7,0.2),(23.93,-0.2),(24.0,0.0)]
C_R16 = [(7.0,-0.4),(7.3,0.1),(7.6,0.1),(7.9,0.5),(8.05,1.5),(8.25,0.2),(8.45,-0.5),(8.8,-0.5),(9.3,0.2),(9.7,0.8),(9.9,0.2),(10.5,0.0),(11.0,0.2),(11.7,0.0),(12.4,0.1),(13.1,-0.1),(13.8,0.1),(14.5,0.0),(15.2,0.1),(15.9,-0.1),(16.6,0.1),(17.3,0.0),(18.0,0.1),(18.7,-0.1),(19.4,0.1),(20.1,0.0),(20.8,0.1),(21.5,0.0),(22.0,0.0),(22.2,0.5),(22.34,1.8),(22.5,0.7),(22.7,0.3),(23.0,1.0),(23.2,2.0),(23.49,2.3),(23.6,0.0),(23.71,-0.6),(23.93,2.3),(24.0,2.5)]

# ---------------- dashed guide lines (wavenumber, alpha) ----------------
DASH_A1_X = [5.0, 6.8, 8.0, 8.77, 9.68, 10.06, 10.29]
DASH_A1_Y = [22.6, 18.8, 15.2, 12.8, 8.45, 4.6, 0.0]
DASH_A2_X = [5.0, 6.8, 8.4, 10.0, 11.4, 14.08, 16.5, 18.47]
DASH_A2_Y = [29.4, 32.8, 36.3, 40.2, 44.3, 53.9, 62.1, 68.4]
DASH_A3_X = [19.23, 19.6, 19.98, 20.14, 20.14, 19.83, 19.23, 18.47, 18.92, 19.45, 19.83, 20.44, 20.9, 21.5]
DASH_A3_Y = [0.0, 8.4, 12.8, 16.2, 19.1, 21.0, 22.9, 24.9, 32.6, 39.4, 44.2, 53.9, 61.1, 67.9]
DASH_B1_X = [10.37, 10.37]
DASH_B1_Y = [0.0, 68.4]
DASH_B2_X = [19.4, 19.6, 19.94, 20.28, 21.09, 22.03, 22.84]
DASH_B2_Y = [0.0, 8.4, 19.1, 24.9, 34.5, 44.2, 51.7]
DASH_C1_X = [10.29, 12.96, 15.99, 18.58, 21.33, 23.56, 23.93]
DASH_C1_Y = [0.0, 16.2, 32.1, 44.2, 57.7, 68.3, 68.3]
DASH_C2_X = [19.31, 20.17, 21.33, 22.41, 23.06, 23.93]
DASH_C2_Y = [0.0, 12.8, 28.3, 44.2, 54.8, 68.3]
STAR_X, STAR_Y = 8.7, -1.5

PAR = r'\;\Vert\;'
PANELS = [
    dict(fields=A_FIELDS,
         blue=[A_B00, A_B01, A_B02, A_B03, A_B04, A_B05, A_B06, A_B07, A_B08, A_B09, A_B11, A_B13, A_B15, A_B17],
         red=[A_R00, A_R01, A_R02, A_R03, A_R04, A_R05, A_R06, A_R07, A_R08, A_R09, A_R11, A_R13, A_R15, A_R17],
         xlim=(5, 22.85), xticks=[5, 10, 15, 20],
         dashes=[(DASH_A1_X, DASH_A1_Y), (DASH_A2_X, DASH_A2_Y), (DASH_A3_X, DASH_A3_Y)],
         title='(a)$\\mathbf{H}' + PAR + '\\mathbf{a}$',
         lab_blue='$\\mathbf{E}^{\\omega}' + PAR + '\\mathbf{a},\\ \\mathbf{H}^{\\omega}' + PAR + '\\mathbf{b}$',
         lab_red='$\\mathbf{E}^{\\omega}' + PAR + '\\mathbf{b},\\ \\mathbf{H}^{\\omega}' + PAR + '\\mathbf{a}$'),
    dict(fields=B_FIELDS,
         blue=[B_B00, B_B02, B_B04, B_B06, B_B08, B_B10, B_B12, B_B14, B_B16],
         red=[B_R00, B_R02, B_R04, B_R06, B_R08, B_R10, B_R12, B_R14, B_R16],
         xlim=(7, 22.85), xticks=[7, 10, 15, 20],
         dashes=[(DASH_B1_X, DASH_B1_Y), (DASH_B2_X, DASH_B2_Y)],
         title='(b) $\\mathbf{H}' + PAR + '\\mathbf{b}$',
         lab_blue='$\\mathbf{E}^{\\omega}' + PAR + '\\mathbf{b},\\ \\mathbf{H}^{\\omega}' + PAR + '\\mathbf{a}$',
         lab_red='$\\mathbf{E}^{\\omega}' + PAR + '\\mathbf{a},\\ \\mathbf{H}^{\\omega}' + PAR + '\\mathbf{b}$'),
    dict(fields=C_FIELDS,
         blue=[C_B00, C_B02, C_B04, C_B06, C_B08, C_B10, C_B12, C_B14, C_B16],
         red=[C_R00, C_R02, C_R04, C_R06, C_R08, C_R10, C_R12, C_R14, C_R16],
         xlim=(7, 24), xticks=[7, 10, 15, 20],
         dashes=[(DASH_C1_X, DASH_C1_Y), (DASH_C2_X, DASH_C2_Y)],
         title='(c) $\\mathbf{H}' + PAR + '\\mathbf{c}$',
         lab_blue='$\\mathbf{E}^{\\omega}' + PAR + '\\mathbf{b},\\ \\mathbf{H}^{\\omega}' + PAR + '\\mathbf{a}$',
         lab_red='$\\mathbf{E}^{\\omega}' + PAR + '\\mathbf{a},\\ \\mathbf{H}^{\\omega}' + PAR + '\\mathbf{c}$'),
]

W, H = 1373, 752
fig = plt.figure(figsize=(W / 100, H / 100), dpi=100)
lefts = [67, 470, 872]
widths = [396, 392, 392]
bottom_px, top_px = 697, 62
YLIM = (-4.64, 87.4)
TICK_FS = 15
LABEL_FS = 17

def cm2mev(x):
    return x / CM_PER_MEV

def mev2cm(e):
    return e * CM_PER_MEV

axes = []
for i, p in enumerate(PANELS):
    ax = fig.add_axes([lefts[i] / W, 1 - bottom_px / H, widths[i] / W, (bottom_px - top_px) / H])
    axes.append(ax)
    ax.set_axisbelow(True)
    ax.grid(True, which='major', color='#b5b5b5', lw=1.0)
    hb = hr = None
    for fld, bl, rd in zip(p['fields'], p['blue'], p['red']):
        off = OFFSET_PER_TESLA * fld
        bx, by = zip(*bl)
        rx, ry = zip(*rd)
        hb, = ax.plot(bx, [v + off for v in by], color='#0000ff', lw=1.8, zorder=2, solid_joinstyle='round')
        hr, = ax.plot(rx, [v + off for v in ry], color='#ff0000', lw=1.8, zorder=3, solid_joinstyle='round')
    for dx, dy in p['dashes']:
        ax.plot(dx, dy, color='black', lw=2.8, ls=(0, (3.2, 2.0)), zorder=5)
    ax.plot([STAR_X], [STAR_Y], marker='*', ms=17, color='black', zorder=6, clip_on=False)
    ax.set_xlim(*p['xlim'])
    ax.set_ylim(*YLIM)
    ax.set_xticks(p['xticks'])
    ax.xaxis.set_minor_locator(MultipleLocator(1))
    ax.set_yticks(list(range(0, 81, 10)))
    ax.tick_params(axis='x', which='major', direction='in', length=7, width=1.0, labelsize=TICK_FS, bottom=True, top=False)
    ax.tick_params(axis='x', which='minor', direction='in', length=4, width=0.9, bottom=True, top=False)
    ax.tick_params(axis='y', which='major', direction='in', length=7, width=1.0, labelsize=TICK_FS, left=True, right=False)
    if i > 0:
        ax.tick_params(axis='y', labelleft=False)
    for s in ax.spines.values():
        s.set_linewidth(1.2)
    sec = ax.secondary_xaxis('top', functions=(cm2mev, mev2cm))
    sec.set_xticks([1.0, 1.5, 2.0, 2.5])
    sec.xaxis.set_major_formatter(FormatStrFormatter('%.1f'))
    sec.xaxis.set_minor_locator(MultipleLocator(0.1))
    sec.tick_params(axis='x', which='major', direction='in', length=7, width=1.0, labelsize=TICK_FS)
    sec.tick_params(axis='x', which='minor', direction='in', length=4, width=0.9)
    if i == 1:
        sec.set_xlabel('Energy (meV)', fontsize=LABEL_FS, labelpad=4)
        ax.set_xlabel('Wavenumber (cm$^{-1}$)', fontsize=LABEL_FS, labelpad=1)
    ax.text(0.03, 0.965, p['title'], transform=ax.transAxes, va='top', ha='left', fontsize=18, zorder=8)
    leg = ax.legend([hb, hr], [p['lab_blue'], p['lab_red']], loc='upper right', fontsize=14,
                    handlelength=2.3, borderpad=0.45, labelspacing=0.3, handletextpad=1.0,
                    fancybox=True, framealpha=0.85, edgecolor='#cccccc', borderaxespad=0.5)
    leg.set_zorder(9)

axes[0].set_ylabel(r'$\alpha_{SW}$ (cm$^{-1}$)', fontsize=LABEL_FS, labelpad=1)

axr = axes[2].twinx()
axr.set_ylim(*YLIM)
axr.set_yticks([OFFSET_PER_TESLA * f for f in RIGHT_TICK_FIELDS])
axr.set_yticklabels([str(f) for f in RIGHT_TICK_FIELDS])
axr.tick_params(axis='y', direction='in', length=7, width=1.0, labelsize=TICK_FS)
trans = mtransforms.blended_transform_factory(axes[2].transAxes, axes[2].transData)
axes[2].text(1.005, 69.6, r'$\mu_0H$(T)', transform=trans, ha='left', va='center', fontsize=TICK_FS + 1, clip_on=False)

fig.savefig('out.png', dpi=100)
